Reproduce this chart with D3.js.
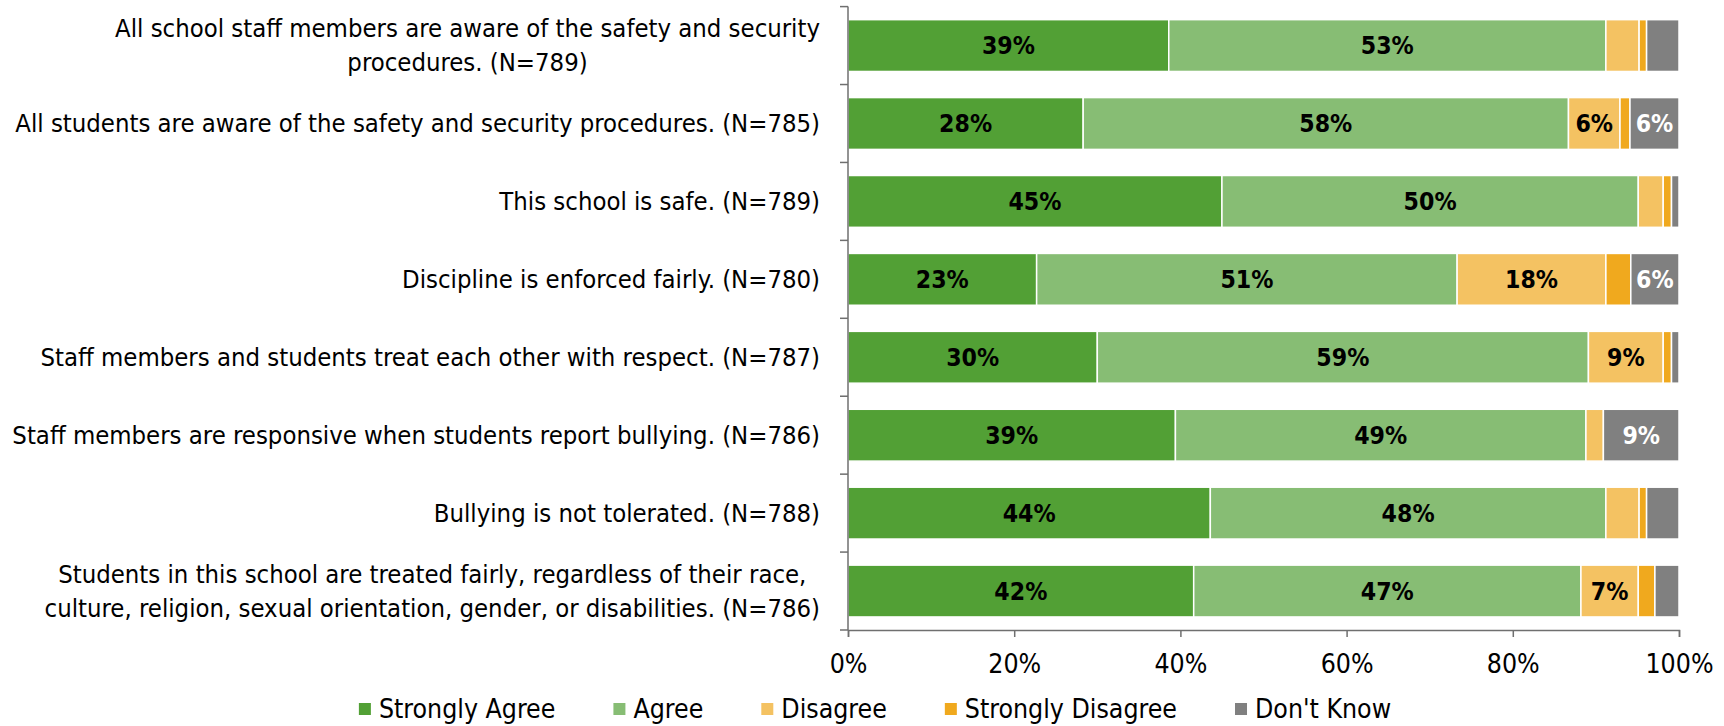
<!DOCTYPE html>
<html><head><meta charset="utf-8">
<script src="https://cdn.jsdelivr.net/npm/d3@7"></script>
<style>
html,body{margin:0;padding:0;background:#fff;}
svg{display:block;}
</style></head>
<body><svg id="chart" width="1724" height="726"></svg>
<script>
const categories = [
  ["All school staff members are aware of the safety and security", "procedures. (N=789)"],
  ["All students are aware of the safety and security procedures. (N=785)"],
  ["This school is safe. (N=789)"],
  ["Discipline is enforced fairly. (N=780)"],
  ["Staff members and students treat each other with respect. (N=787)"],
  ["Staff members are responsive when students report bullying. (N=786)"],
  ["Bullying is not tolerated. (N=788)"],
  ["Students in this school are treated fairly, regardless of their race,", "culture, religion, sexual orientation, gender, or disabilities. (N=786)"]
];
const seriesNames = ["Strongly Agree", "Agree", "Disagree", "Strongly Disagree", "Don't Know"];
const stronglyAgree    = [38.6, 28.3, 45.0, 22.7, 30.0, 39.4, 43.6, 41.6];
const agree            = [52.6, 58.4, 50.1, 50.6, 59.1, 49.4, 47.6, 46.6];
const disagree         = [4.0,  6.2,  3.0,  17.9, 9.0,  2.1,  4.0,  6.9];
const stronglyDisagree = [0.9,  1.2,  1.0,  3.0,  1.0,  0.0,  0.9,  2.0];
const dontKnow         = [3.9,  5.9,  0.9,  5.8,  0.9,  9.1,  3.9,  2.9];
const xTicks = [0, 20, 40, 60, 80, 100];
const colors = ["#52A035", "#87BD74", "#F4C262", "#F0A91E", "#808080"];
const labelColors = ["#000", "#000", "#000", "#000", "#fff"];

const seriesValues = [stronglyAgree, agree, disagree, stronglyDisagree, dontKnow];
const rows = categories.map((c, i) => {
  const r = {key: i};
  seriesNames.forEach((s, j) => r[s] = seriesValues[j][i]);
  return r;
});

const svg = d3.select("#chart");
const FONT = "'DejaVu Sans Condensed', 'DejaVu Sans', sans-serif";

function fitSize(family, weight, sample, target) {
  const t = svg.append("text").attr("font-family", family).attr("font-weight", weight)
    .attr("font-size", 100).text(sample);
  const w = t.node().getComputedTextLength();
  t.remove();
  return 100 * target / w;
}
const labelSize = fitSize(FONT, "normal", categories[1][0], 805);
const dataSize = Math.min(25, fitSize(FONT, "bold", "18%", 53));

const plotLeft = 848, plotRight = 1679, plotTop = 6.6, plotBottom = 630;

const x = d3.scaleLinear().domain([0, 100]).range([plotLeft, plotRight]);
const y = d3.scaleBand().domain(d3.range(categories.length)).range([plotTop, plotBottom])
  .paddingInner(0.335).paddingOuter(0.1675);

const stacked = d3.stack().keys(seriesNames)(rows);

const g = svg.append("g");
stacked.forEach((layer, j) => {
  g.append("g").selectAll("rect").data(layer).join("rect")
    .attr("x", d => x(d[0]))
    .attr("y", d => y(d.data.key))
    .attr("width", d => Math.max(0, x(d[1]) - x(d[0])))
    .attr("height", y.bandwidth())
    .attr("fill", colors[j])
    .attr("stroke", "#fff")
    .attr("stroke-width", 1.5);
});

stacked.forEach((layer, j) => {
  g.append("g").selectAll("text").data(layer.filter(d => (d[1] - d[0]) >= 5)).join("text")
    .attr("x", d => (x(d[0]) + x(d[1])) / 2)
    .attr("y", d => y(d.data.key) + y.bandwidth() / 2)
    .attr("dy", "0.36em")
    .attr("text-anchor", "middle")
    .attr("font-family", FONT)
    .attr("font-weight", "bold")
    .attr("font-size", dataSize)
    .attr("fill", labelColors[j])
    .text(d => Math.round(d[1] - d[0]) + "%");
});

const axisColor = "#6f6f6f";
const step = y.step();
const boundaries = d3.range(categories.length + 1).map(i => plotTop + i * step);
svg.append("line").attr("x1", plotLeft).attr("x2", plotLeft).attr("y1", plotTop).attr("y2", plotBottom)
  .attr("stroke", axisColor).attr("stroke-width", 1.5);
svg.append("g").selectAll("line").data(boundaries).join("line")
  .attr("x1", plotLeft - 8).attr("x2", plotLeft).attr("y1", d => d).attr("y2", d => d)
  .attr("stroke", axisColor).attr("stroke-width", 1.5);

const xAxis = d3.axisBottom(x).tickValues(xTicks).tickFormat(d => d + "%").tickSize(7).tickPadding(17);
const xg = svg.append("g").attr("transform", `translate(0,${plotBottom})`).call(xAxis);
xg.select(".domain").attr("stroke", axisColor).attr("stroke-width", 1.5);
xg.selectAll(".tick line").attr("stroke", axisColor).attr("stroke-width", 1.5);
xg.selectAll(".tick text").attr("font-family", FONT).attr("font-size", labelSize * 1.04).attr("fill", "#000");

const labelRight = 820;
const lineH = 34;
categories.forEach((lines, i) => {
  const cy = y(i) + y.bandwidth() / 2;
  const t = svg.append("g");
  const texts = lines.map((ln, k) => t.append("text")
    .attr("font-family", FONT).attr("font-size", labelSize).attr("fill", "#000")
    .attr("text-anchor", "middle")
    .attr("y", cy + (k - (lines.length - 1) / 2) * lineH)
    .attr("dy", "0.35em")
    .text(ln));
  const maxW = d3.max(texts, tx => tx.node().getComputedTextLength());
  texts.forEach(tx => tx.attr("x", labelRight - maxW / 2));
});

const legY = 709;
const legGap = 58;
const leg = svg.append("g");
let cx = 0;
seriesNames.forEach((s, j) => {
  const it = leg.append("g").attr("transform", `translate(${cx},0)`);
  it.append("rect").attr("x", 0).attr("y", legY - 6).attr("width", 12).attr("height", 12).attr("fill", colors[j]);
  const tx = it.append("text").attr("x", 20).attr("y", legY).attr("dy", "0.35em")
    .attr("font-family", FONT).attr("font-size", labelSize * 1.04).attr("fill", "#000").text(s);
  cx += 20 + tx.node().getComputedTextLength() + legGap;
});
const totalW = cx - legGap;
leg.attr("transform", `translate(${875 - totalW / 2},0)`);
</script>
</body></html>
